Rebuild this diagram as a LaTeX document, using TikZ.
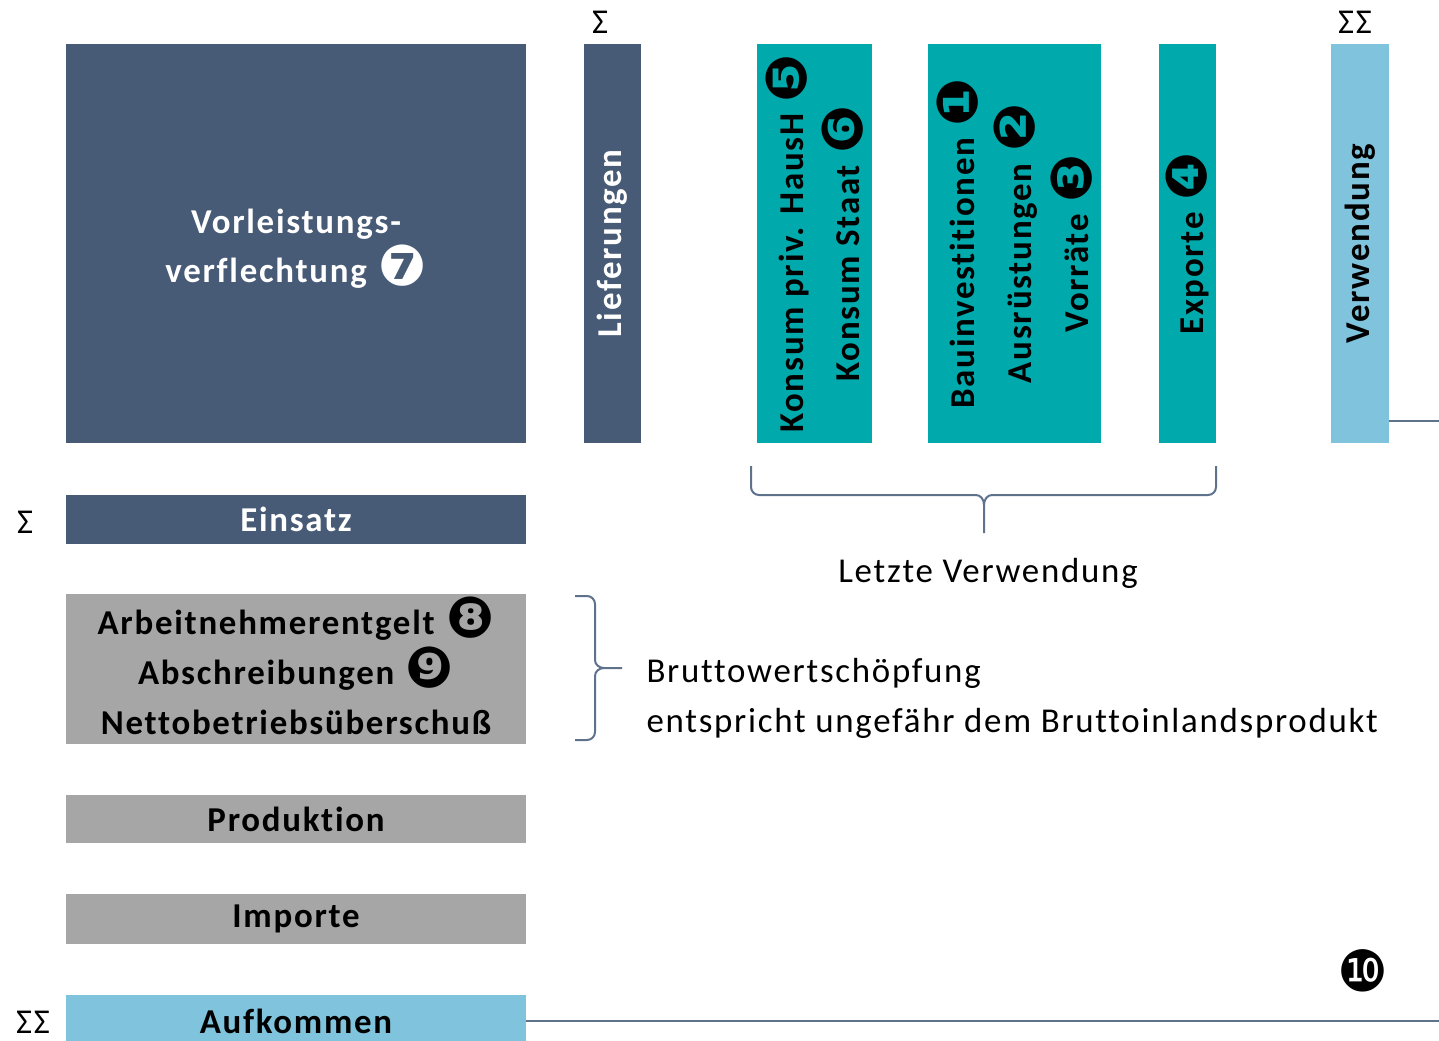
\documentclass[tikz,border=0pt]{standalone}
\usepackage{fontspec}
\setmainfont{Carlito}[LetterSpace=5, Ligatures=NoCommon]
\newfontfamily\circfont{DejaVu Sans}
\usetikzlibrary{positioning}

\definecolor{slateblue}{HTML}{475B77}
\definecolor{tealcol}{HTML}{00A9AB}
\definecolor{skyblue}{HTML}{7FC3DC}
\definecolor{greybox}{HTML}{A6A6A6}
\definecolor{bracecol}{HTML}{5F728C}

% circled numbers
\newcommand{\nr}[1]{\hspace{2bp}\raisebox{-3bp}{\circfont\fontsize{57}{57}\selectfont #1}}

\tikzset{
  block/.style={anchor=north west, inner sep=0pt, outer sep=0pt},
  darkblock/.style={block, fill=slateblue, text=white, font=\bfseries\fontsize{35}{49}\selectfont},
  tealblock/.style={block, fill=tealcol},
  lightblock/.style={block, fill=skyblue, font=\bfseries\fontsize{35}{49}\selectfont},
  greyblock/.style={block, fill=greybox, font=\bfseries\fontsize{35}{50}\selectfont},
  coltext/.style={rotate=90, align=center, font=\bfseries\fontsize{35}{57}\selectfont},
  plaintext/.style={font=\fontsize{35}{50}\selectfont},
  bracket/.style={draw=bracecol, line width=2bp},
}

\begin{document}
\begin{tikzpicture}[x=1bp, y=-1bp]
    \useasboundingbox (0,0) rectangle (1439,1040);

    % upper blocks
    \node[darkblock, minimum width=460bp, minimum height=399bp] (vorl) at (66,44) {};
    \node[align=center, text=white, font=\bfseries\fontsize{35}{49}\selectfont]
        at ([yshift=-5bp]vorl.center) {Vorleistungs-\\verflechtung \nr{❼}};
    \node[darkblock, minimum width=57bp, minimum height=399bp] (liefer) at (584,44) {};
    \node[coltext, text=white] at (liefer.center) {Lieferungen};

    \node[tealblock, minimum width=115bp, minimum height=399bp] (konsum) at (757,44) {};
    \node[coltext] at (konsum.center) {Konsum priv. HausH \nr{❺}\\Konsum Staat \nr{❻}};
    \node[tealblock, minimum width=173bp, minimum height=399bp] (invest) at (928,44) {};
    \node[coltext] at (invest.center) {Bauinvestitionen \nr{❶}\\Ausrüstungen \nr{❷}\\Vorräte \nr{❸}};
    \node[tealblock, minimum width=57bp, minimum height=399bp] (export) at (1159,44) {};
    \node[coltext] at (export.center) {Exporte \nr{❹}};

    \node[lightblock, minimum width=58bp, minimum height=399bp] (verw) at (1331,44) {};
    \node[coltext] at (verw.center) {Verwendung};

    % sums
    \node[plaintext] (sumLief) at (600,22) {Σ};
    \node[plaintext] (sumVerw) at (1355,22) {ΣΣ};
    \node[plaintext] (sumEins) at (25,522) {Σ};
    \node[plaintext] (sumAufk) at (33,1022) {ΣΣ};

    % lower blocks
    \node[darkblock, minimum width=460bp, minimum height=49bp] (einsatz) at (66,495) {Einsatz};
    \node[greyblock, minimum width=460bp, minimum height=150bp] (bws) at (66,594) {};
    \node[align=center, font=\bfseries\fontsize{35}{50}\selectfont] at ([yshift=3bp]bws.center)
        {Arbeitnehmerentgelt \nr{❽}\\Abschreibungen \nr{❾}\\Nettobetriebsüberschuß};
    \node[greyblock, minimum width=460bp, minimum height=48bp] (prod) at (66,795) {Produktion};
    \node[greyblock, minimum width=460bp, minimum height=50bp] (imp) at (66,894) {Importe};
    \node[lightblock, minimum width=460bp, minimum height=53bp] (aufk) at (66,995) {Aufkommen};

    % braces
    \draw[bracket] (751,466) -- (751,487) to[out=-90,in=180] (759,495) -- (976,495)
        to[out=0,in=90] (984,505) -- (984,533);
    \draw[bracket] (1216,466) -- (1216,487) to[out=-90,in=0] (1208,495) -- (992,495)
        to[out=180,in=90] (984,505);
    \draw[bracket] (575,596) -- (587,596) to[out=0,in=90] (595,604) -- (595,660)
        to[out=-90,in=180] (604,668) -- (622,668);
    \draw[bracket] (575,740) -- (587,740) to[out=0,in=-90] (595,732) -- (595,676)
        to[out=90,in=180] (604,668);

    % labels
    \node[plaintext] (letzte) at (988,573) {Letzte Verwendung};
    \node[plaintext, anchor=west, align=left] (bwsText) at (643,698)
        {Bruttowertschöpfung\\entspricht ungefähr dem Bruttoinlandsprodukt};
    \node (zehn) at (1362,971) {\nr{❿}};

    % outgoing lines
    \coordinate (endVerw) at (1439,421);
    \coordinate (endAufk) at (1439,1021);
    \draw[bracket] (verw.east |- endVerw) -- (endVerw);
    \draw[bracket] (aufk.east |- endAufk) -- (endAufk);
\end{tikzpicture}
\end{document}
